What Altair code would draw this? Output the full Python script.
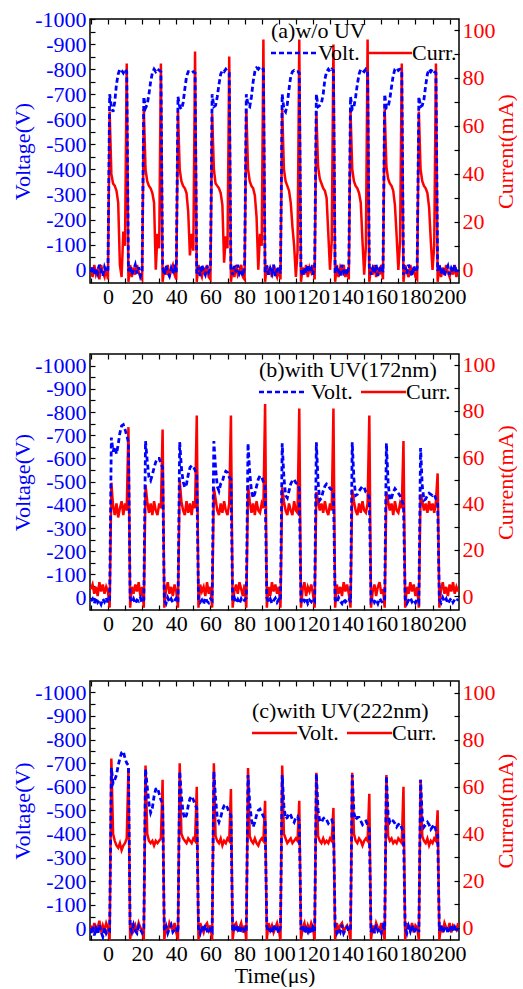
import altair as alt
import pandas as pd

# oscilloscope sample grid (1 us)
TIME = list(range(-10, 206))

# ---------------- panel (a) w/o UV ----------------
VOLT_A = [
    10, -15, 20, -5, 15, -20, 5, 25, -10, 10, 0,
    -700, -650, -630, -670, -740, -780, -800, -795, -785, -800, -790,
    5, -15, 20, 0, -20, 15, -10, 25, 5,
    -690, -645, -660, -700, -750, -785, -800, -790, -800, -795, -790,
    -10, 20, -15, 10, 25, -5, 15, -20, 10,
    -690, -650, -640, -665, -720, -770, -790, -790, -785, -790, -785,
    15, -10, 25, -20, 5, 20, -15, 10, -5,
    -700, -650, -655, -690, -740, -780, -795, -790, -800, -790, -785,
    -5, 20, -15, 10, -20, 15, 0, 25, -10,
    -700, -655, -650, -690, -750, -790, -805, -800, -810, -805, -800,
    10, -15, 20, -5, 15, -20, 25, 0, -10, 15,
    -700, -640, -630, -660, -720, -770, -790, -795, -790, -790, -785,
    0, 25, -10, 15, -20, 10, -5, 20, -15,
    -700, -650, -655, -665, -700, -760, -790, -800, -790, -800, -795,
    15, -15, 5, 25, -20, 10, -5, 20, -10,
    -690, -640, -650, -690, -740, -780, -800, -795, -790, -800, -790,
    -10, 20, -5, 15, -20, 25, 0, -15, 10,
    -700, -645, -650, -680, -730, -775, -800, -805, -795, -800, -795,
    20, -10, 15, -20, 5, 25, -15, 10, -5,
    -690, -650, -655, -680, -735, -780, -800, -790, -800, -790, -785,
    5, -20, 15, -10, 25, 0, -15, 20, -5, 10, -20, 15, 0,
]
CURR_A = [
    1, -3, 2, -2, 0, -4, 2, -1, -3, 1, -4,
    66, 40, 36, 35, 33, 28, 2, -3, 16, 10, 86,
    -5, 2, -3, 1, -2, 2, -1, -3, -4,
    67, 42, 37, 35, 34, 32, 28, 0, 15, 9, 86,
    -5, 1, -2, 2, -3, 0, 2, -2, -4,
    66, 42, 37, 35, 34, 32, 24, 6, 15, 8, 91,
    -5, 2, -1, -3, 1, -2, 2, -3, -4,
    65, 42, 36, 35, 34, 32, 27, 3, 14, 9, 89,
    -5, 1, -3, 2, -2, 0, 2, -3, -4,
    67, 42, 37, 35, 34, 31, 22, 0, 15, 10, 96,
    -5, 2, -2, 1, -3, 2, -1, -3, 1, -4,
    67, 42, 37, 35, 33, 28, 18, 10, -3, 8, 96,
    -5, 1, -2, 2, -3, 1, -1, 2, -4,
    66, 43, 38, 36, 34, 33, 30, 15, 0, 12, 94,
    -5, 2, -3, 1, -1, 2, -3, 0, -4,
    66, 42, 37, 35, 34, 32, 28, 12, -2, 10, 96,
    -5, 1, -2, 2, -3, 1, -2, 2, -4,
    67, 43, 38, 36, 35, 33, 27, 14, 0, 12, 86,
    -5, 2, -1, -3, 2, -2, 1, -3, -4,
    66, 42, 37, 35, 34, 32, 26, 12, 0, 10, 86,
    -5, 2, -3, 1, -2, 2, -1, -3, 1, -2, 2, -3, 0,
]

# ---------------- panel (b) with UV 172 nm ----------------
VOLT_B = [
    15, 5, 25, 0, 20, 10, 28, 5, 18, 0, 22, 10,
    -690, -630, -650, -620, -660, -710, -740, -745, -725, -700, -670,
    0, 20, 5, 25, 10, 15, 0, 22, 8,
    -675, -590, -520, -505, -530, -560, -585, -600, -600, -580, -560,
    10, 25, 0, 18, 5, 22, 12, 2, 20,
    -670, -560, -500, -475, -490, -530, -560, -570, -565, -550, -530,
    5, 20, 10, 28, 0, 15, 22, 5, 12,
    -675, -560, -480, -460, -490, -500, -530, -545, -540, -520, -510,
    15, 0, 22, 8, 25, 5, 18, 10, 0,
    -665, -540, -460, -430, -450, -480, -510, -525, -520, -500, -485,
    0, 18, 5, 25, 12, 2, 20, 8, 15,
    -665, -520, -440, -430, -460, -490, -505, -510, -495, -490, -470,
    20, 5, 15, 0, 25, 10, 18, 2, 12,
    -670, -500, -420, -430, -460, -480, -490, -485, -470, -465, -450,
    8, 22, 0, 15, 25, 5, 18, 10, 2, 20,
    -670, -510, -440, -445, -460, -470, -480, -475, -455, -450, -430,
    12, 0, 20, 8, 25, 3, 15, 22, 5,
    -665, -500, -420, -430, -455, -470, -460, -450, -440, -420, -400,
    5, 25, 10, 0, 18, 8, 22, 2, 15,
    -645, -480, -420, -425, -440, -450, -445, -440, -445, -425, -410,
    10, 22, 0, 18, 5, 25, 12, 2, 20, 8, 15, 5,
]
CURR_B = [
    3, 5, 1, 4, 0, 6, 2, 5, 1, 4, 2, -5,
    49, 39, 35, 40, 34, 38, 41, 35, 40, 37, 73,
    -5, 4, 1, 5, 2, 6, 0, 4, -5,
    48, 41, 36, 40, 35, 41, 37, 35, 40, 38, 72,
    -5, 3, 6, 1, 4, 0, 5, 2, -5,
    50, 41, 37, 35, 41, 36, 40, 35, 41, 38, 78,
    -5, 5, 2, 4, 0, 6, 1, 4, -5,
    47, 42, 37, 35, 40, 36, 41, 37, 35, 40, 78,
    -5, 2, 5, 1, 6, 3, 0, 5, -5,
    48, 41, 36, 40, 35, 41, 37, 36, 40, 38, 83,
    -5, 4, 0, 6, 2, 5, 1, 4, -5,
    47, 41, 37, 35, 40, 37, 35, 41, 37, 36, 81,
    -5, 3, 6, 0, 4, 2, 5, 1, -5,
    45, 41, 37, 40, 36, 41, 37, 35, 40, 37, 81,
    -5, 5, 1, 4, 0, 6, 2, 5, 1, -5,
    46, 41, 37, 35, 40, 36, 41, 37, 36, 40, 78,
    -5, 2, 5, 0, 4, 6, 1, 3, -5,
    45, 41, 37, 40, 35, 41, 37, 36, 40, 38, 67,
    -5, 4, 1, 6, 2, 5, 0, 4, -5,
    44, 41, 37, 40, 36, 41, 37, 40, 36, 41, 53,
    -5, 3, 6, 1, 4, 0, 5, 2, 6, 1, 4, 2,
]

# ---------------- panel (c) with UV 222 nm ----------------
VOLT_C = [
    20, -10, 30, 0, 25, -15, 15, 35, -5, 20, 5, 10,
    -680, -615, -630, -650, -690, -720, -745, -750, -720, -700, -690,
    -5, 15, -15, 10, 20, -10, 5, 18, 0,
    -675, -600, -530, -490, -510, -560, -590, -595, -570, -545, -530,
    10, -10, 20, 0, -15, 15, 5, -5, 18,
    -665, -560, -490, -465, -480, -520, -550, -560, -545, -525, -510,
    0, 20, -10, 15, -15, 10, 22, -5, 8,
    -665, -550, -470, -450, -470, -500, -520, -525, -510, -490, -480,
    15, -5, 10, -15, 20, 0, -10, 18, 5,
    -650, -530, -460, -430, -450, -480, -500, -505, -490, -475, -460,
    -10, 15, 5, 22, -15, 10, 0, 20, -5,
    -650, -520, -465, -470, -488, -480, -460, -450, -470, -475, -455,
    5, -15, 20, 0, 15, -10, 22, -5, 10,
    -655, -500, -455, -450, -465, -470, -460, -445, -455, -460, -440,
    -10, 18, 0, 15, -15, 20, 5, -5, 12, 0,
    -650, -490, -460, -470, -470, -455, -440, -450, -455, -440, -420,
    15, -5, 20, -15, 10, 0, 18, -10, 5,
    -645, -480, -450, -460, -455, -445, -430, -440, -445, -425, -405,
    0, 20, -10, 12, -15, 18, 5, -5, 15,
    -630, -470, -430, -440, -450, -440, -420, -430, -440, -415, -400,
    10, -15, 18, 0, -10, 20, 5, -15, 12, -5, 15, 0,
]
CURR_C = [
    1, -2, 2, -1, 0, 3, -2, 1, -1, 2, 0, -5,
    72, 40, 37, 35, 34, 36, 33, 35, 36, 38, 68,
    -5, 2, -1, 1, -2, 2, 0, -1, -5,
    69, 40, 37, 36, 37, 35, 37, 36, 37, 38, 63,
    -5, 1, -2, 2, 0, -1, 2, -2, -5,
    70, 40, 38, 37, 36, 38, 37, 36, 38, 37, 60,
    -5, 2, 0, -2, 1, 2, -1, 1, -5,
    70, 39, 37, 36, 38, 35, 37, 36, 38, 37, 59,
    -5, 1, 2, -1, 0, 2, -2, 1, -5,
    68, 39, 37, 36, 38, 36, 35, 37, 38, 37, 54,
    -5, 2, -1, 1, -2, 0, 2, -1, -5,
    69, 40, 38, 36, 37, 38, 36, 37, 38, 37, 54,
    -5, 0, 2, -2, 1, -1, 2, 0, -5,
    66, 39, 37, 36, 38, 36, 37, 36, 38, 37, 51,
    -5, 2, -1, 1, 2, -2, 0, 1, -1, -5,
    66, 40, 37, 36, 38, 37, 35, 37, 38, 37, 57,
    -5, 1, -2, 2, 0, -1, 2, -2, -5,
    65, 39, 37, 38, 36, 37, 36, 38, 37, 36, 60,
    -5, 2, 0, -1, 2, -2, 1, 0, -5,
    63, 39, 37, 36, 38, 35, 37, 36, 38, 37, 50,
    -5, 1, -2, 2, 0, -1, 2, -2, 1, 0, -1, 2,
]

for _s in (VOLT_A, CURR_A, VOLT_B, CURR_B, VOLT_C, CURR_C):
    assert len(_s) == len(TIME), len(_s)

PANEL_TITLES = ["(a)w/o UV", "(b)with UV(172nm)", "(c)with UV(222nm)"]
LEGEND_LABELS = ["Volt.", "Curr."]
X_TICKS = list(range(-10, 201, 10))
V_TICKS = list(range(-1000, 1, 50))
I_TICKS = list(range(0, 101, 10))

FONT = "Liberation Serif"
BLUE = "#0000ff"
RED = "#ff0000"
W = 369
DASH = [5, 3]


def axis_common():
    return dict(domain=False, grid=False, tickSize=5, offset=-5, tickColor="black",
                tickWidth=1.2, labelOverlap=False, labelFlush=False, labelBound=False)


def text_layer(label, x, y):
    return alt.Chart(pd.DataFrame({"label": [label]})).mark_text(
        align="left", baseline="middle", font=FONT, fontSize=22, color="black"
    ).encode(x=alt.value(x), y=alt.value(y), text="label:N")


def line_layer(x1, x2, y, color, dashed):
    kw = dict(color=color, strokeWidth=2.6)
    if dashed:
        kw["strokeDash"] = DASH
    return alt.Chart(pd.DataFrame({"k": [0]})).mark_rule(**kw).encode(
        x=alt.value(x1), x2=alt.value(x2), y=alt.value(y))


def panel(volt, curr, title, h, vdom, idom, leg, volt_leg_red, xtitle):
    df = pd.DataFrame({"t": TIME, "v": volt, "i": curr})
    xs = alt.Scale(domain=[-10.5, 205.5], nice=False, zero=False)
    cur = alt.Chart(df).mark_line(color=RED, strokeWidth=2.5, clip=True).encode(
        x=alt.X("t:Q", scale=xs, title=None,
                axis=alt.Axis(orient="top", values=X_TICKS, labels=False, **axis_common())),
        y=alt.Y("i:Q", scale=alt.Scale(domain=idom, nice=False, zero=False), title="Current(mA)",
                axis=alt.Axis(orient="right", values=I_TICKS,
                              labelExpr="datum.value % 20 === 0 ? '' + datum.value : ''",
                              labelColor=RED, labelPadding=3, titleColor=RED, titleAngle=270,
                              titleBaseline="top", titlePadding=0, **axis_common())),
    )
    xaxis_kw = dict(orient="bottom", values=X_TICKS,
                    labelExpr="datum.value % 20 === 0 && datum.value >= 0 ? '' + datum.value : ''",
                    labelColor="black", labelPadding=3, titleColor="black", titlePadding=1,
                    **axis_common())
    if xtitle:
        xenc = alt.X("t:Q", scale=xs, title=xtitle, axis=alt.Axis(**xaxis_kw))
    else:
        xenc = alt.X("t:Q", scale=xs, title=None, axis=alt.Axis(**xaxis_kw))
    vol = alt.Chart(df).mark_line(color=BLUE, strokeWidth=2.8, strokeDash=DASH, clip=True).encode(
        x=xenc,
        y=alt.Y("v:Q", scale=alt.Scale(domain=vdom, reverse=True, nice=False, zero=False),
                title="Voltage(V)",
                axis=alt.Axis(orient="left", values=V_TICKS,
                              labelExpr="datum.value % 100 === 0 ? '' + datum.value : ''",
                              labelColor=BLUE, labelPadding=4, titleColor=BLUE, titlePadding=0,
                              **axis_common())),
    )
    tx, ty, ly, d1, d2, vx, r1, r2, cx = leg
    layers = [
        cur, vol,
        line_layer(d1, d2, ly, RED if volt_leg_red else BLUE, not volt_leg_red),
        line_layer(r1, r2, ly, RED, False),
        text_layer(title, tx, ty),
        text_layer(LEGEND_LABELS[0], vx, ly),
        text_layer(LEGEND_LABELS[1], cx, ly),
    ]
    return alt.layer(*layers).resolve_scale(y="independent").resolve_axis(
        x="independent", y="independent").properties(width=W, height=h)


pa = panel(VOLT_A, CURR_A, PANEL_TITLES[0], 264, [-1000, 53], [-5.5, 104.6],
           (181, 12, 34, 181, 228, 228, 278, 322, 322), False, None)
pb = panel(VOLT_B, CURR_B, PANEL_TITLES[1], 256, [-1050, 53], [-6, 104.6],
           (169, 16, 38, 169, 215, 221, 271, 316, 316), False, None)
pc = panel(VOLT_C, CURR_C, PANEL_TITLES[2], 259, [-1048, 49], [-5.2, 105],
           (162, 30, 52, 162, 207, 207, 257, 302, 302), True, "Time(\u03bcs)")

lower = alt.vconcat(pb, pc, spacing=44)
chart = alt.vconcat(pa, lower, spacing=44).properties(
    padding={"left": 10, "top": 7, "right": 0, "bottom": 0}
).configure_view(stroke="black", strokeWidth=1.5).configure_axis(
    labelFont=FONT, titleFont=FONT, labelFontSize=22, titleFontSize=22,
    titleFontWeight="normal"
)

chart.save("out.html", embed_options={"renderer": "svg", "actions": False})
